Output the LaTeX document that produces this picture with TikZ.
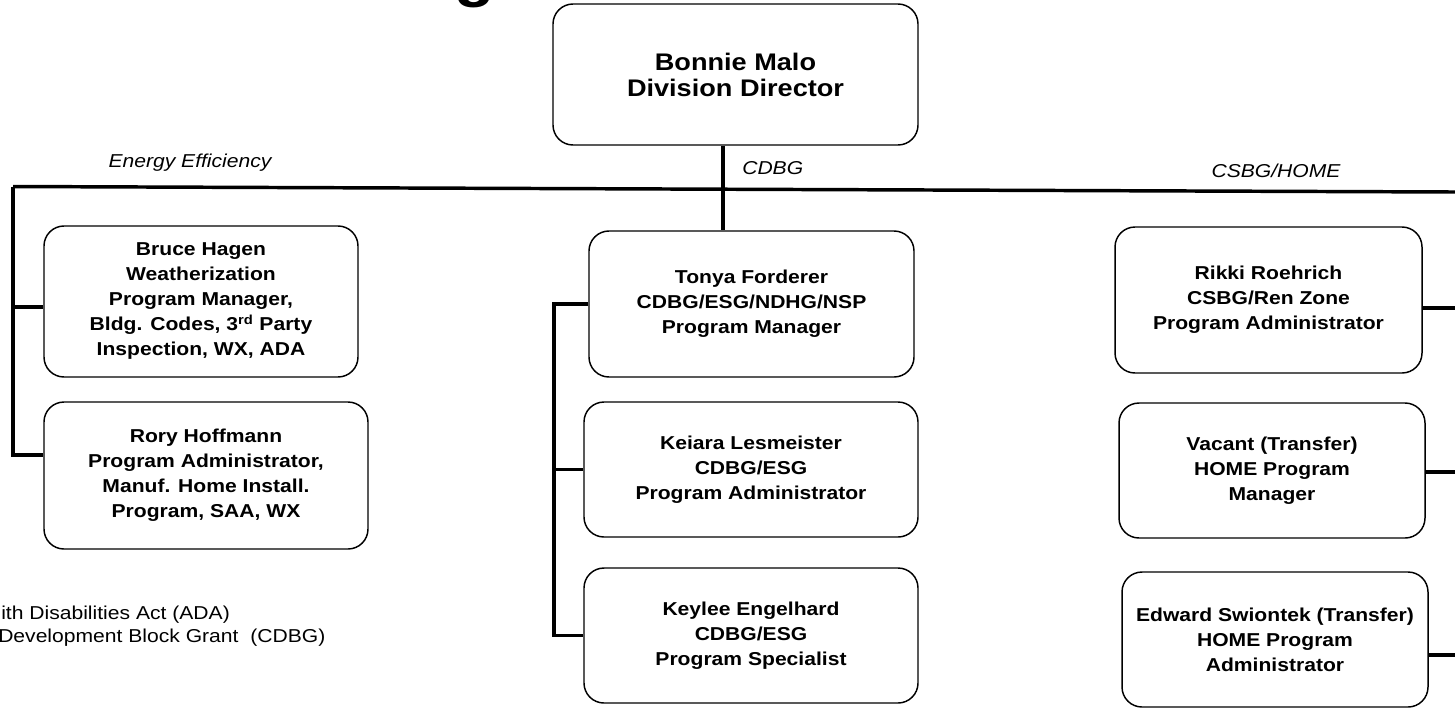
\documentclass[tikz,border=0pt]{standalone}
\usepackage{fontspec}
\setmainfont{Liberation Sans}[FakeStretch=1.13]
\usepackage{tikz}

\tikzset{
  staff/.style={draw, line width=1.1pt, rounded corners=15pt, align=center, inner sep=0pt,
    font=\fontsize{14}{18.75}\selectfont\bfseries},
  conn/.style={line width=2.6pt},
  branch/.style={inner sep=0pt, font=\fontsize{14}{16}\selectfont\itshape},
  note/.style={inner sep=0pt, anchor=west, font=\fontsize{14}{16}\selectfont},
}

\begin{document}
\begin{tikzpicture}[x=0.75pt,y=0.75pt,yscale=-1,xscale=1]
\useasboundingbox (0,0) rectangle (1455,708);

% Title (cut off at the top)
\node [anchor=base, inner sep=0pt, font=\fontsize{44}{44}\selectfont\bfseries] (ttl) at (475,-4.5) {g};

% Director
\node [staff, minimum width=273.75pt, minimum height=105.75pt, font=\fontsize{18}{19.5}\selectfont\bfseries] (dir) at (735.5,74.5) {Bonnie Malo\\Division Director};

% Energy Efficiency
\node [staff, minimum width=235.5pt, minimum height=113.25pt] (bruce) at (201,301.5) {Bruce Hagen\\Weatherization\\Program Manager,\\Bldg. Codes, 3\textsuperscript{rd} Party\\Inspection, WX, ADA};
\node [staff, minimum width=243pt, minimum height=110.25pt] (rory) at (206,475.5) {Rory Hoffmann\\Program Administrator,\\Manuf. Home Install.\\Program, SAA, WX};

% CDBG
\node [staff, minimum width=243.75pt, minimum height=109.5pt] (tonya) at (751.5,304) {Tonya Forderer\\CDBG/ESG/NDHG/NSP\\Program Manager};
\node [staff, minimum width=250.5pt, minimum height=101.25pt] (keiara) at (751,469.5) {Keiara Lesmeister\\CDBG/ESG\\Program Administrator};
\node [staff, minimum width=250.5pt, minimum height=101.25pt] (keylee) at (751,635.5) {Keylee Engelhard\\CDBG/ESG\\Program Specialist};

% CSBG/HOME
\node [staff, minimum width=230.25pt, minimum height=109.5pt] (rikki) at (1268.5,300) {Rikki Roehrich\\CSBG/Ren Zone\\Program Administrator};
\node [staff, minimum width=229.5pt, minimum height=101.25pt] (vacant) at (1272,470.5) {Vacant (Transfer)\\HOME Program\\Manager};
\node [staff, minimum width=229.5pt, minimum height=101.25pt] (edward) at (1275,639.5) {Edward Swiontek (Transfer)\\HOME Program\\Administrator};

% Branch labels
\node [branch] (eelbl) at (190,163) {Energy Efficiency};
\node [branch, anchor=west] (cdlbl) at (742,168) {CDBG};
\node [branch] (hmlbl) at (1276,171) {CSBG/HOME};

% Notes (cut off at the left)
\node [note] (ada) at (1,615) {ith Disabilities Act (ADA)};
\node [note] (cdbg) at (-2,638) {Development Block Grant\ \ (CDBG)};

% Connector points
\coordinate (eeL) at (13,186.5);
\coordinate (hmR) at (1455,192);
\coordinate (hub) at (723,189.2);
\coordinate (bhL) at (13,307);
\coordinate (rhL) at (13,455);
\coordinate (cdB) at (554,635.5);
\coordinate (rkR) at (1455,308);
\coordinate (vcR) at (1455,472);
\coordinate (edR) at (1455,655);

% Connectors
\draw [conn] (eeL) -- (hmR);
\draw [conn] (dir.south -| hub) -- (tonya.north -| hub);
\draw [conn] (eeL) -- (rhL) -- (rhL -| rory.west);
\draw [conn] (bhL) -- (bhL -| bruce.west);
\draw [conn] (tonya.west) -| (cdB) -- (keylee.west);
\draw [conn] (keiara.west) -- (keiara.west -| cdB);
\draw [conn] (rkR -| rikki.east) -- (rkR);
\draw [conn] (vcR -| vacant.east) -- (vcR);
\draw [conn] (edR -| edward.east) -- (edR);

\end{tikzpicture}
\end{document}
